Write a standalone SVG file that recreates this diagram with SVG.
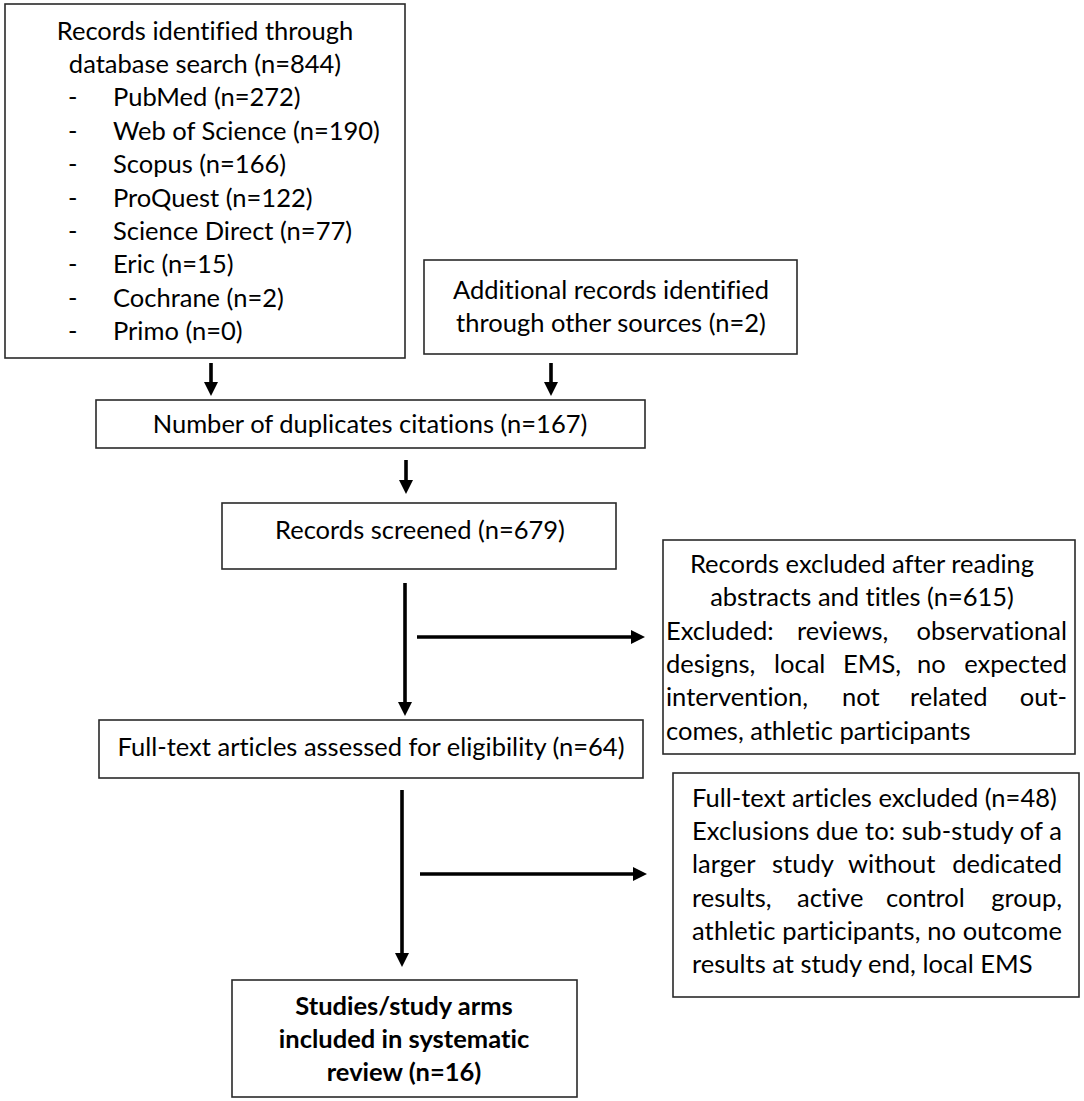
<svg xmlns="http://www.w3.org/2000/svg" width="1084" height="1101" viewBox="0 0 1084 1101">
<defs>
<style>
.box{fill:#fff;stroke:#2a2a2a;stroke-width:1.6}
.t{font-family:Lato,"Liberation Sans",sans-serif;font-size:25.5px;fill:#000;font-variant-ligatures:none}
.c{text-anchor:middle}
.e{text-anchor:end}
.b{font-weight:bold}
.conn{stroke:#000;stroke-width:3.6;fill:none;marker-end:url(#ah)}
</style>
<marker id="ah" viewBox="0 0 14 14" refX="0" refY="7" markerWidth="14" markerHeight="14" markerUnits="userSpaceOnUse" orient="auto">
<path d="M0,0 L14,7 L0,14 z" fill="#000"/>
</marker>
</defs>
<rect width="1084" height="1101" fill="#fff"/>

<g id="connectors">
<path class="conn" d="M211,363 V382"/>
<path class="conn" d="M551,363 V382"/>
<path class="conn" d="M406,460 V480"/>
<path class="conn" d="M405,583 V702"/>
<path class="conn" d="M417,637 H631"/>
<path class="conn" d="M402,790 V953"/>
<path class="conn" d="M420,874 H633"/>
</g>

<g id="n-database">
<rect class="box" x="5" y="4" width="400" height="354"/>
<text class="t c" x="205" y="40">Records identified through</text>
<text class="t c" x="205" y="73">database search (n=844)</text>
<text class="t" x="68" y="106">-</text><text class="t" x="113" y="106">PubMed (n=272)</text>
<text class="t" x="68" y="140">-</text><text class="t" x="113" y="140">Web of Science (n=190)</text>
<text class="t" x="68" y="173">-</text><text class="t" x="113" y="173">Scopus (n=166)</text>
<text class="t" x="68" y="207">-</text><text class="t" x="113" y="207">ProQuest (n=122)</text>
<text class="t" x="68" y="240">-</text><text class="t" x="113" y="240">Science Direct (n=77)</text>
<text class="t" x="68" y="273">-</text><text class="t" x="113" y="273">Eric (n=15)</text>
<text class="t" x="68" y="307">-</text><text class="t" x="113" y="307">Cochrane (n=2)</text>
<text class="t" x="68" y="340">-</text><text class="t" x="113" y="340">Primo (n=0)</text>
</g>

<g id="n-additional">
<rect class="box" x="424" y="260" width="373" height="94"/>
<text class="t c" x="611" y="299">Additional records identified</text>
<text class="t c" x="611" y="332">through other sources (n=2)</text>
</g>

<g id="n-duplicates">
<rect class="box" x="96" y="400" width="549" height="48"/>
<text class="t c" x="370" y="433">Number of duplicates citations (n=167)</text>
</g>

<g id="n-screened">
<rect class="box" x="222" y="503" width="394" height="66"/>
<text class="t c" x="420" y="539">Records screened (n=679)</text>
</g>

<g id="n-excluded1">
<rect class="box" x="663" y="540" width="412" height="214"/>
<text class="t c" x="862" y="573">Records excluded after reading</text>
<text class="t c" x="862" y="606">abstracts and titles (n=615)</text>
<text class="t" x="666" y="640">Excluded:</text>
<text class="t" x="797" y="640">reviews,</text>
<text class="t e" x="1067" y="640">observational</text>
<text class="t" x="666" y="673">designs,</text>
<text class="t" x="774" y="673">local</text>
<text class="t" x="843" y="673">EMS,</text>
<text class="t" x="917" y="673">no</text>
<text class="t e" x="1067" y="673">expected</text>
<text class="t" x="666" y="706">intervention,</text>
<text class="t" x="842" y="706">not</text>
<text class="t" x="910" y="706">related</text>
<text class="t e" x="1067" y="706">out-</text>
<text class="t" x="666" y="740">comes, athletic participants</text>
</g>

<g id="n-fulltext">
<rect class="box" x="99" y="720" width="544" height="58"/>
<text class="t c" x="371" y="756">Full-text articles assessed for eligibility (n=64)</text>
</g>

<g id="n-excluded2">
<rect class="box" x="673" y="773" width="406" height="224"/>
<text class="t" x="692" y="807">Full-text articles excluded (n=48)</text>
<text class="t" x="692" y="840" textLength="370" lengthAdjust="spacing">Exclusions due to: sub-study of a</text>
<text class="t" x="692" y="873">larger</text>
<text class="t" x="772" y="873">study</text>
<text class="t" x="848" y="873">without</text>
<text class="t e" x="1062" y="873">dedicated</text>
<text class="t" x="692" y="907">results,</text>
<text class="t" x="797" y="907">active</text>
<text class="t" x="886" y="907">control</text>
<text class="t e" x="1062" y="907">group,</text>
<text class="t" x="692" y="940" textLength="370" lengthAdjust="spacing">athletic participants, no outcome</text>
<text class="t" x="692" y="973">results at study end, local EMS</text>
</g>

<g id="n-included">
<rect class="box" x="232" y="980" width="345" height="117"/>
<text class="t c b" x="404" y="1015">Studies/study arms</text>
<text class="t c b" x="404" y="1048">included in systematic</text>
<text class="t c b" x="404" y="1081">review (n=16)</text>
</g>
</svg>
